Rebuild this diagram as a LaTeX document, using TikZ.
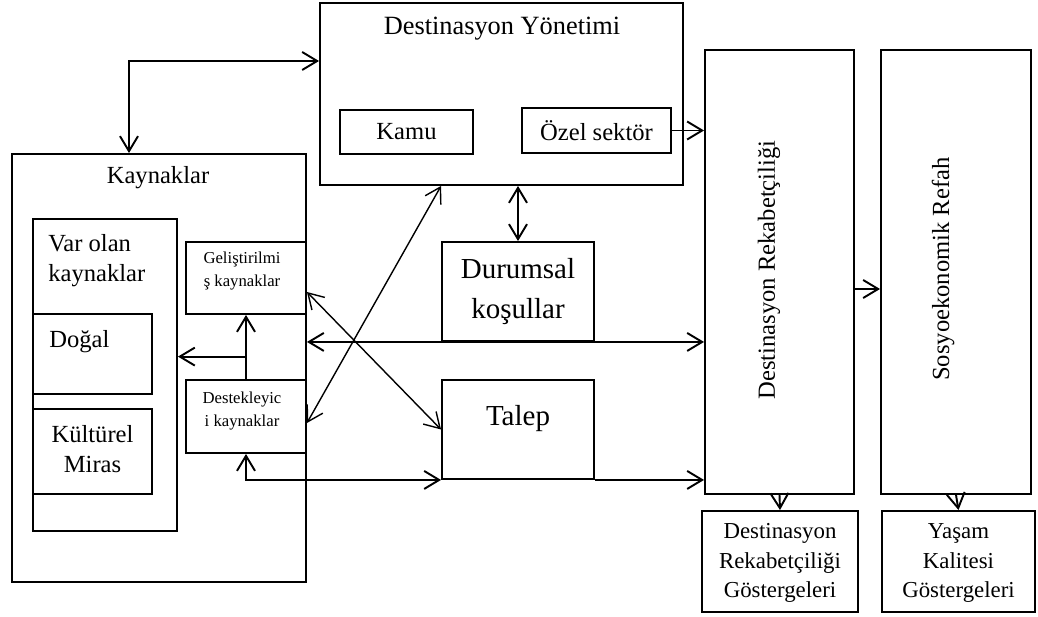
\documentclass[tikz,border=0pt]{standalone}
\usepackage{fontspec}
\setmainfont{Liberation Serif}
\usetikzlibrary{positioning,arrows.meta,calc}
\newcommand{\fsmain}{\fontsize{14}{17}\selectfont}
\newcommand{\fssmall}{\fontsize{9.5}{13}\selectfont}
\newcommand{\fsbig}{\fontsize{16.5}{22.5}\selectfont}
\newcommand{\fsind}{\fontsize{13}{17}\selectfont}

\begin{document}
\begin{tikzpicture}[x=0.02cm, y=-0.02cm,
  box/.style={draw, line width=1.1pt, inner sep=0pt, align=center, font=\fsmain},
  txt/.style={inner sep=0pt, align=center, font=\fsmain},
  >={Straight Barb[length=3mm,width=3.6mm]}]
\useasboundingbox (0,0) rectangle (1038,617);

% Destinasyon yonetimi
\node[box, minimum width=7.26cm, minimum height=3.64cm] (dy) at (501.5,94) {};
\node[txt, font=\fontsize{15}{17}\selectfont] (dyt) at (502,29) {Destinasyon Yönetimi};
\node[box, minimum width=2.66cm, minimum height=0.88cm] (kamu) at (406.5,132) {Kamu};
\node[box, minimum width=2.98cm, minimum height=0.9cm] (ozel) at (596.5,130.5) {Özel sektör};

% Kaynaklar
\node[box, minimum width=5.88cm, minimum height=8.56cm] (kay) at (159,368) {};
\node[txt] (kayt) at (158,178) {Kaynaklar};
\node[box, minimum width=2.88cm, minimum height=6.24cm] (var) at (105,375) {};
\node[txt, anchor=west, align=left] (vart) at (48,261) {Var olan\\kaynaklar};
\node[box, minimum width=2.38cm, minimum height=1.6cm] (dog) at (92.5,354) {};
\node[txt, anchor=west] (dogt) at (49,342) {Doğal};
\node[box, minimum width=2.38cm, minimum height=1.7cm] (kul) at (92.5,451.5) {};
\node[txt] (kult) at (92.5,449) {Kültürel\\Miras};
\node[box, minimum width=2.4cm, minimum height=1.44cm] (gel) at (246,278) {};
\node[txt, font=\fssmall] (gelt) at (242,271) {Geliştirilmi\\ş kaynaklar};
\node[box, minimum width=2.4cm, minimum height=1.46cm] (des) at (246,416.5) {};
\node[txt, font=\fssmall] (dest) at (242,411) {Destekleyic\\i kaynaklar};

% Durumsal kosullar ve talep
\node[box, minimum width=3.04cm, minimum height=1.98cm, font=\fsbig] (dur) at (518,291.5) {Durumsal\\koşullar};
\node[box, minimum width=3.04cm, minimum height=1.98cm] (tal) at (518,429.5) {};
\node[txt, font=\fsbig] (talt) at (518,419) {Talep};

% Rekabetcilik ve refah
\node[box, minimum width=2.98cm, minimum height=8.88cm] (dr) at (779.5,272) {};
\node[txt, rotate=90] (drt) at (769,270) {Destinasyon Rekabetçiliği};
\node[box, minimum width=3cm, minimum height=8.88cm] (sr) at (956,272) {};
\node[txt, rotate=90] (srt) at (943,269) {Sosyoekonomik Refah};
\node[box, minimum width=3.12cm, minimum height=2.02cm] (drg) at (780,561.5) {};
\node[txt, font=\fsind] (drgt) at (780,563) {Destinasyon\\Rekabetçiliği\\Göstergeleri};
\node[box, minimum width=3.06cm, minimum height=2.02cm] (ykg) at (958.5,561.5) {};
\node[txt, font=\fsind] (ykgt) at (958.5,563) {Yaşam\\Kalitesi\\Göstergeleri};

% Arrows
\draw[<->, line width=1.1pt] ([xshift=-0.6cm]kay.north) |- ([yshift=0.66cm]dy.west);
\draw[->, line width=1.1pt] (ozel.east) -- (ozel.east -| dr.west);
\draw[<->, line width=1.1pt] (dur.north |- dy.south) -- (dur.north);
\draw[<->, line width=0.8pt] (dy.south -| tal.west) -- ([yshift=-0.13cm]des.east);
\draw[<->, line width=0.8pt] ([yshift=-0.28cm]gel.east) -- (tal.west);
\draw[<->, line width=1.1pt] (kay.east |- dur.south) -- (dr.west |- dur.south);
\draw[->, line width=1.1pt] (des.north) -- (gel.south);
\coordinate (br) at ($(gel.south)!0.65!(des.north)$);
\draw[->, line width=1.1pt] (br) -- (br -| var.east);
\draw[<->, line width=1.1pt] (des.south) |- (tal.south west);
\draw[->, line width=1.1pt] (tal.south east) -- (tal.south east -| dr.west);
\draw[->, line width=1.1pt] ([yshift=-0.34cm]dr.east) -- ([yshift=-0.34cm]sr.west);
\draw[->, line width=1.1pt] (dr.south) -- (drg.north);
\draw[->, line width=1.1pt] (sr.south) -- (ykg.north);
\end{tikzpicture}
\end{document}
